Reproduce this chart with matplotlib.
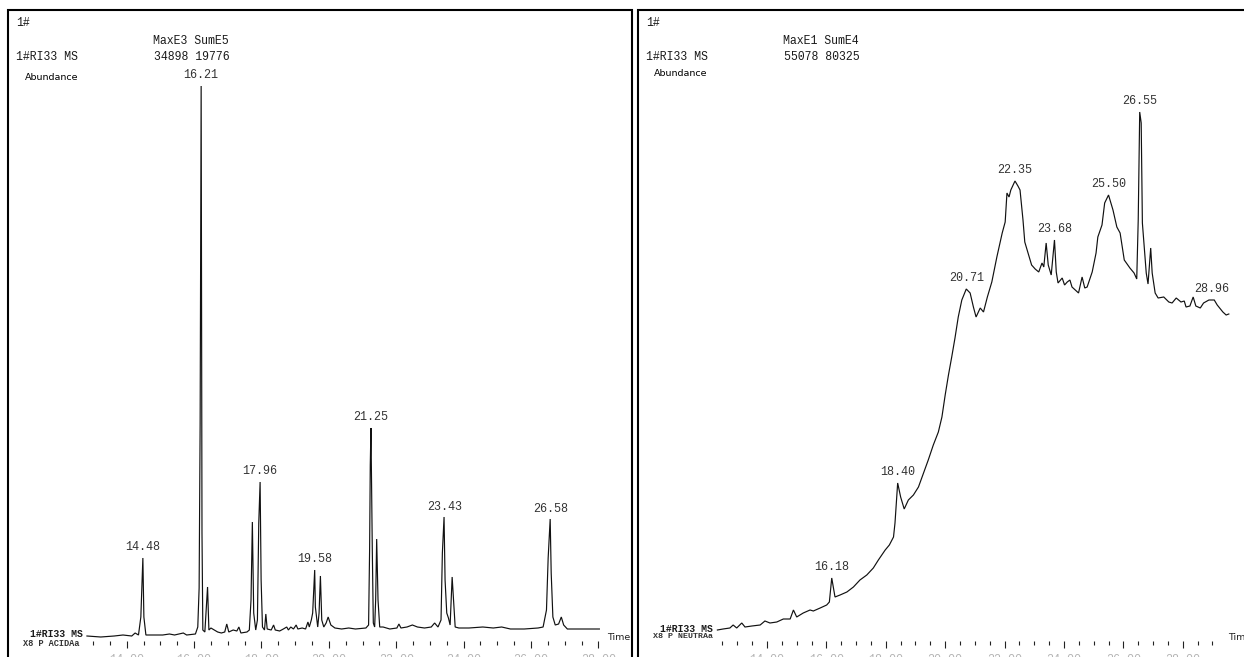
import numpy as np
import matplotlib
matplotlib.use("Agg")
import matplotlib.pyplot as plt
from matplotlib.patches import Rectangle
from matplotlib.ticker import FixedLocator, FormatStrFormatter

# ---------------- data (retention time in min, abundance in relative units) ----------------
left_time = [12.82, 13.23, 13.63, 13.89, 14.15, 14.25, 14.35, 14.42, 14.48, 14.51,
             14.57, 14.76, 15.07, 15.27, 15.42, 15.68, 15.78, 16.04, 16.11, 16.15,
             16.18, 16.21, 16.235, 16.26, 16.32, 16.40, 16.44, 16.50, 16.60, 16.70,
             16.81, 16.91, 16.97, 17.03, 17.16, 17.27, 17.33, 17.39, 17.57, 17.64,
             17.69, 17.73, 17.77, 17.83, 17.88, 17.92, 17.96, 17.99, 18.03, 18.09,
             18.13, 18.17, 18.29, 18.36, 18.41, 18.54, 18.65, 18.75, 18.80, 18.87,
             18.95, 19.03, 19.08, 19.21, 19.31, 19.38, 19.42, 19.48, 19.52, 19.58,
             19.60, 19.67, 19.71, 19.75, 19.79, 19.85, 19.92, 19.98, 20.06, 20.18,
             20.38, 20.59, 20.79, 21.10, 21.18, 21.21, 21.23, 21.25, 21.29, 21.32,
             21.36, 21.39, 21.42, 21.46, 21.51, 21.61, 21.81, 22.02, 22.08, 22.14,
             22.32, 22.48, 22.63, 22.84, 23.04, 23.14, 23.24, 23.33, 23.37, 23.42,
             23.45, 23.50, 23.55, 23.60, 23.63, 23.66, 23.70, 23.75, 23.86, 24.16,
             24.57, 24.88, 25.13, 25.39, 25.80, 26.21, 26.36, 26.46, 26.51, 26.57,
             26.60, 26.65, 26.72, 26.82, 26.90, 26.97, 27.08, 27.43, 28.03]
left_abund = [0, -1, 0, 1, 0, 3, 1, 19, 78, 19,
              1, 1, 1, 2, 1, 3, 1, 2, 9, 48,
              213, 550, 103, 6, 4, 49, 6, 8, 6, 4,
              3, 4, 12, 4, 6, 5, 9, 3, 4, 6,
              36, 114, 23, 6, 16, 113, 154, 56, 9, 6,
              22, 7, 6, 11, 6, 5, 7, 9, 6, 9,
              7, 11, 7, 8, 7, 14, 9, 16, 23, 66,
              29, 9, 23, 60, 16, 9, 13, 19, 11, 8,
              7, 8, 7, 8, 11, 86, 171, 208, 86, 13,
              9, 36, 97, 36, 9, 9, 7, 8, 12, 8,
              9, 11, 9, 8, 9, 13, 9, 16, 83, 119,
              56, 23, 18, 11, 36, 59, 36, 9, 8, 8,
              9, 8, 9, 7, 7, 8, 9, 26, 78, 117,
              63, 19, 11, 12, 19, 11, 7, 7, 7]

right_time = [12.33, 12.52, 12.75, 12.86, 12.98, 13.15, 13.26, 13.49, 13.77, 13.93,
              14.10, 14.33, 14.55, 14.78, 14.89, 15.00, 15.22, 15.45, 15.56, 15.79,
              16.01, 16.10, 16.18, 16.29, 16.46, 16.69, 16.91, 17.13, 17.36, 17.58,
              17.75, 17.98, 18.12, 18.26, 18.31, 18.40, 18.50, 18.62, 18.76, 18.93,
              19.10, 19.27, 19.43, 19.60, 19.77, 19.89, 20.00, 20.11, 20.22, 20.33,
              20.44, 20.56, 20.71, 20.84, 20.95, 21.04, 21.18, 21.29, 21.42, 21.57,
              21.74, 21.92, 22.02, 22.08, 22.15, 22.21, 22.35, 22.45, 22.52, 22.62,
              22.68, 22.79, 22.91, 23.03, 23.15, 23.26, 23.32, 23.40, 23.47, 23.57,
              23.68, 23.74, 23.80, 23.94, 24.02, 24.11, 24.20, 24.27, 24.49, 24.61,
              24.70, 24.78, 24.95, 25.08, 25.14, 25.28, 25.37, 25.50, 25.65, 25.78,
              25.89, 26.03, 26.22, 26.36, 26.45, 26.50, 26.55, 26.60, 26.64, 26.77,
              26.83, 26.92, 26.97, 27.07, 27.17, 27.36, 27.53, 27.64, 27.78, 27.94,
              28.05, 28.11, 28.24, 28.35, 28.44, 28.59, 28.70, 28.88, 29.06, 29.16,
              29.35, 29.46, 29.55]
right_abund = [6, 7, 8, 11, 8, 13, 9, 10, 11, 15,
               13, 14, 17, 17, 26, 19, 23, 26, 25, 28,
               31, 34, 58, 39, 41, 44, 49, 56, 61, 68,
               76, 86, 91, 99, 113, 153, 139, 127, 136, 141,
               149, 163, 176, 191, 204, 219, 241, 261, 279, 298,
               319, 336, 347, 343, 329, 319, 328, 324, 339, 354,
               379, 403, 414, 443, 439, 446, 455, 450, 446, 416,
               394, 383, 371, 367, 364, 373, 369, 393, 371, 361,
               396, 364, 353, 358, 351, 354, 356, 349, 343, 359,
               348, 349, 364, 383, 399, 411, 433, 441, 426, 409,
               403, 376, 368, 363, 357, 416, 524, 513, 413, 363,
               352, 388, 363, 343, 338, 339, 334, 333, 338, 334,
               335, 329, 330, 339, 330, 328, 333, 336, 336, 331,
               324, 321, 322]

left_peak_labels = [14.48, 16.21, 17.96, 19.58, 21.25, 23.43, 26.58]
right_peak_labels = [16.18, 18.40, 20.71, 22.35, 23.68, 25.50, 26.55, 28.96]

panel_ids = ["1#", "1#"]
sample_names = ["1#RI33 MS", "1#RI33 MS"]
max_sum_titles = ["MaxE3 SumE5", "MaxE1 SumE4"]
max_sum_values = ["34898 19776", "55078 80325"]
file_tags = ["X8 P ACIDAa", "X8 P NEUTRAa"]
major_ticks = [14, 16, 18, 20, 22, 24, 26, 28]

# ---------------- layout ----------------
W, H = 1244, 657
fig = plt.figure(figsize=(W / 100, H / 100), dpi=100)
fig.patch.set_facecolor("white")

MONO = "Liberation Mono"
SANS = "DejaVu Sans"
INK = "#1a1a1a"


def fx(x):
    return x / W


def fy(y):
    return 1 - y / H


def make_axes(rect, xlim, minor_start, minor_end):
    ax = fig.add_axes(rect)
    ax.set_xlim(*xlim)
    ax.set_ylim(-21, 636)
    ax.patch.set_alpha(0)
    for s in ["top", "left", "right"]:
        ax.spines[s].set_visible(False)
    ax.spines["bottom"].set_position(("data", -5))
    ax.spines["bottom"].set_visible(False)
    ax.set_yticks([])
    ax.xaxis.set_major_locator(FixedLocator(major_ticks))
    ax.xaxis.set_minor_locator(FixedLocator(np.arange(minor_start, minor_end + 0.01, 0.5)))
    ax.xaxis.set_major_formatter(FormatStrFormatter("%.2f"))
    ax.tick_params(which="major", direction="out", length=5.0, width=0.8,
                   color="#222222", pad=4.6, labelsize=8.5, labelcolor="#b4b4b4")
    ax.tick_params(which="minor", direction="out", length=3.0, width=0.8, color="#222222")
    for lab in ax.get_xticklabels():
        lab.set_fontfamily(MONO)
    return ax


def draw_trace(ax, t, a, peaks):
    t = np.asarray(t, float)
    a = np.asarray(a, float)
    ax.plot(t, a, color="#111111", lw=0.85, solid_joinstyle="miter")
    for p in peaks:
        window = np.linspace(p - 0.06, p + 0.06, 41)
        apex = np.interp(window, t, a).max()
        ax.annotate(f"{p:.2f}", (p, apex), xytext=(0, 3.6), textcoords="offset points",
                    ha="center", va="bottom", fontsize=8.5, family=MONO, color="#333333")


# left panel: 33.69 px/min, 14 min at x=126.7 px
axL = make_axes([0.06393, 0.0, 0.42248, 1.0], (12.6, 28.2), 13.0, 28.0)
draw_trace(axL, left_time, left_abund, left_peak_labels)

# right panel: 29.69 px/min
axR = make_axes([0.56881, 0.0, 0.42733, 1.0], (12.0, 29.9), 12.5, 29.0)
draw_trace(axR, right_time, right_abund, right_peak_labels)

# frames
fig.add_artist(Rectangle((fx(8), -0.1), fx(632.5) - fx(8), fy(10) + 0.1,
                         transform=fig.transFigure, fill=False, lw=1.5, ec="black"))
fig.add_artist(Rectangle((fx(638.5), -0.1), 1.0, fy(10) + 0.1,
                         transform=fig.transFigure, fill=False, lw=1.5, ec="black"))

# header texts
for i, x0 in enumerate([16, 646]):
    fig.text(fx(x0), fy(23), panel_ids[i], fontsize=8.3, family=MONO, color=INK,
             ha="left", va="center")
    fig.text(fx(x0 + 137), fy(41), max_sum_titles[i], fontsize=8.3, family=MONO,
             color=INK, ha="left", va="center")
    fig.text(fx(x0), fy(57.5), sample_names[i], fontsize=8.3, family=MONO, color=INK,
             ha="left", va="center")
    fig.text(fx(x0 + 138), fy(57.5), max_sum_values[i], fontsize=8.3, family=MONO,
             color=INK, ha="left", va="center")

fig.text(fx(24.5), fy(77.5), "Abundance", fontsize=6.8, family=SANS, color="black",
         ha="left", va="center")
fig.text(fx(654), fy(73.5), "Abundance", fontsize=6.8, family=SANS, color="black",
         ha="left", va="center")

# bottom-left labels
fig.text(fx(83), fy(634), sample_names[0], fontsize=7, family=MONO, weight="bold",
         color=INK, ha="right", va="center")
fig.text(fx(23), fy(643), file_tags[0], fontsize=6.2, family=MONO, weight="bold",
         color="#333333", ha="left", va="center")
fig.text(fx(713), fy(629), sample_names[1], fontsize=7, family=MONO, weight="bold",
         color=INK, ha="right", va="center")
fig.text(fx(653), fy(636), file_tags[1], fontsize=6.0, family=MONO, weight="bold",
         color="#333333", ha="left", va="center")

fig.text(fx(607), fy(637), "Time", fontsize=6.8, family=SANS, color="#222222",
         ha="left", va="center")
fig.text(fx(1228), fy(637), "Time", fontsize=6.8, family=SANS, color="#222222",
         ha="left", va="center")

fig.savefig("out.png", dpi=100, facecolor="white")
